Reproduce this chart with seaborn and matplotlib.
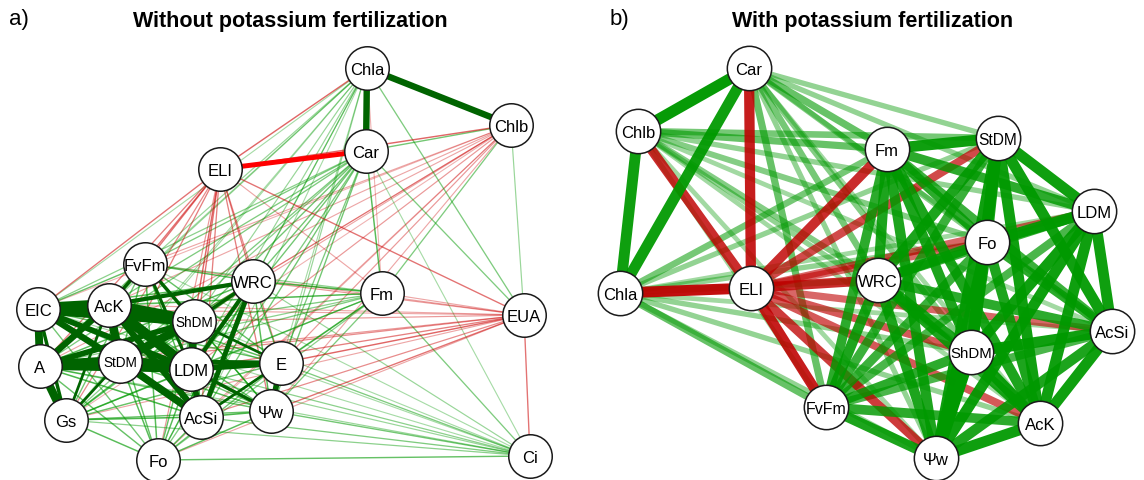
import numpy as np
import pandas as pd
import matplotlib
matplotlib.use("Agg")
import matplotlib.pyplot as plt
import seaborn as sns

sns.set_theme(style="white")
plt.rcParams['font.family'] = ['Liberation Sans', 'DejaVu Sans']
plt.rcParams['text.color'] = 'black'

# ---- panel a: without potassium (layout coordinates + correlations)
nodes_a = ["Chla", "Chlb", "Car", "ELI", "FvFm", "WRC", "Fm", "EUA", "EIC", "AcK",
           "ShDM", "A", "StDM", "LDM", "E", "Gs", "AcSi", "Ψw", "Fo", "Ci"]
x_a = [367, 511, 366, 220, 145, 253, 382, 524, 38, 109,
       194, 40, 120, 191, 281, 66, 201, 271, 158, 530]
y_a = [69, 126, 152, 170, 265, 282, 294, 316, 310, 306,
       322, 367, 362, 370, 364, 421, 418, 412, 461, 457]

edges_a = [
    # strong block
    ("EIC", "AcK", 0.97), ("EIC", "ShDM", 0.92), ("AcK", "ShDM", 0.95),
    ("EIC", "A", 0.86), ("A", "Gs", 0.87), ("A", "StDM", 0.93),
    ("StDM", "LDM", 0.95), ("EIC", "StDM", 0.82), ("EIC", "LDM", 0.80),
    ("AcK", "LDM", 0.92), ("AcK", "A", 0.82), ("ShDM", "StDM", 0.88),
    ("ShDM", "LDM", 0.86), ("StDM", "AcSi", 0.85), ("AcK", "AcSi", 0.82),
    ("LDM", "AcSi", 0.80), ("A", "ShDM", 0.80), ("A", "LDM", 0.85),
    ("AcK", "StDM", 0.88), ("LDM", "E", 0.80), ("StDM", "E", 0.77),
    ("WRC", "AcSi", 0.78), ("WRC", "LDM", 0.76), ("WRC", "AcK", 0.76),
    ("WRC", "ShDM", 0.74), ("E", "Ψw", 0.80), ("LDM", "Ψw", 0.74),
    ("AcK", "FvFm", 0.74), ("FvFm", "ShDM", 0.74), ("FvFm", "LDM", 0.73),
    ("Gs", "StDM", 0.72), ("Gs", "AcK", 0.72), ("EIC", "Gs", 0.74),
    ("ShDM", "E", 0.72), ("AcSi", "E", 0.72),
    ("Chla", "Car", 0.82), ("Chla", "Chlb", 0.82), ("ELI", "Car", -0.78),
    # Chla
    ("Chla", "ELI", -0.55), ("Chla", "FvFm", 0.35), ("Chla", "WRC", 0.40),
    ("Chla", "EIC", 0.30), ("Chla", "AcK", 0.35), ("Chla", "ShDM", 0.35),
    ("Chla", "StDM", 0.30), ("Chla", "LDM", 0.35), ("Chla", "E", 0.30),
    ("Chla", "Fm", -0.25), ("Chla", "EUA", 0.45), ("Chla", "Gs", 0.30),
    ("Chla", "A", 0.30), ("Chla", "AcSi", 0.30), ("Chla", "Ψw", 0.35),
    ("Chla", "Fo", 0.30),
    # Chlb
    ("Chlb", "Car", 0.50), ("Chlb", "ELI", -0.55), ("Chlb", "EUA", 0.35),
    ("Chlb", "Fm", 0.45), ("Chlb", "FvFm", -0.30), ("Chlb", "WRC", -0.30),
    ("Chlb", "EIC", -0.25), ("Chlb", "AcK", -0.30), ("Chlb", "ShDM", -0.30),
    ("Chlb", "StDM", -0.30), ("Chlb", "A", -0.30), ("Chlb", "LDM", -0.35),
    ("Chlb", "E", -0.35), ("Chlb", "Gs", -0.25), ("Chlb", "AcSi", -0.30),
    ("Chlb", "Ψw", -0.30), ("Chlb", "Fo", -0.25),
    # Car
    ("Car", "Fm", 0.60), ("Car", "EUA", 0.45), ("Car", "Ci", 0.30),
    ("Car", "FvFm", 0.45), ("Car", "WRC", 0.50), ("Car", "EIC", 0.40),
    ("Car", "AcK", 0.45), ("Car", "ShDM", 0.50), ("Car", "StDM", 0.45),
    ("Car", "A", 0.45), ("Car", "LDM", 0.50), ("Car", "E", 0.45),
    ("Car", "Gs", 0.40), ("Car", "AcSi", 0.50), ("Car", "Ψw", 0.50),
    ("Car", "Fo", 0.45),
    # ELI
    ("ELI", "FvFm", -0.50), ("ELI", "WRC", -0.45), ("ELI", "EIC", -0.50),
    ("ELI", "AcK", -0.50), ("ELI", "ShDM", -0.55), ("ELI", "StDM", -0.45),
    ("ELI", "A", -0.45), ("ELI", "LDM", -0.50), ("ELI", "E", -0.40),
    ("ELI", "Gs", -0.40), ("ELI", "AcSi", -0.45), ("ELI", "Ψw", -0.45),
    ("ELI", "Fo", -0.35), ("ELI", "EUA", -0.50), ("ELI", "Fm", -0.30),
    # FvFm
    ("FvFm", "EIC", 0.55), ("FvFm", "A", 0.50), ("FvFm", "StDM", 0.60),
    ("FvFm", "WRC", 0.60), ("FvFm", "E", 0.55), ("FvFm", "Gs", 0.50),
    ("FvFm", "AcSi", 0.60), ("FvFm", "Ψw", 0.55), ("FvFm", "Fo", 0.60),
    ("FvFm", "Fm", 0.40), ("FvFm", "EUA", -0.30), ("FvFm", "Ci", 0.30),
    # WRC
    ("WRC", "Fm", 0.65), ("WRC", "EIC", 0.60), ("WRC", "A", 0.60),
    ("WRC", "StDM", 0.60), ("WRC", "E", 0.55), ("WRC", "Gs", 0.50),
    ("WRC", "Ψw", 0.60), ("WRC", "Fo", 0.55), ("WRC", "EUA", -0.35),
    ("WRC", "Ci", 0.35),
    # Fm
    ("Fm", "EIC", 0.40), ("Fm", "AcK", 0.45), ("Fm", "ShDM", 0.45),
    ("Fm", "A", 0.40), ("Fm", "StDM", 0.45), ("Fm", "LDM", 0.50),
    ("Fm", "E", 0.50), ("Fm", "Gs", 0.40), ("Fm", "AcSi", 0.50),
    ("Fm", "Ψw", 0.45), ("Fm", "Fo", 0.40), ("Fm", "EUA", -0.30),
    ("Fm", "Ci", 0.45),
    # EUA
    ("EUA", "EIC", -0.30), ("EUA", "AcK", -0.30), ("EUA", "ShDM", -0.35),
    ("EUA", "A", -0.35), ("EUA", "StDM", -0.40), ("EUA", "LDM", -0.45),
    ("EUA", "E", -0.55), ("EUA", "Gs", -0.30), ("EUA", "AcSi", -0.40),
    ("EUA", "Ψw", -0.50), ("EUA", "Fo", -0.30), ("EUA", "Ci", -0.50),
    # Ci
    ("Ci", "EIC", 0.30), ("Ci", "AcK", 0.30), ("Ci", "ShDM", 0.30),
    ("Ci", "A", 0.35), ("Ci", "StDM", 0.35), ("Ci", "LDM", 0.40),
    ("Ci", "E", 0.45), ("Ci", "Gs", 0.40), ("Ci", "AcSi", 0.45),
    ("Ci", "Ψw", 0.50), ("Ci", "Fo", 0.55),
    # rest of the growth cluster
    ("EIC", "E", 0.55), ("EIC", "AcSi", 0.60), ("EIC", "Ψw", 0.50),
    ("EIC", "Fo", 0.50), ("AcK", "E", 0.60), ("AcK", "Ψw", 0.55),
    ("AcK", "Fo", 0.55), ("ShDM", "Gs", 0.60), ("ShDM", "AcSi", 0.65),
    ("ShDM", "Ψw", 0.60), ("ShDM", "Fo", 0.55), ("A", "E", 0.60),
    ("A", "AcSi", 0.65), ("A", "Ψw", 0.55), ("A", "Fo", 0.55),
    ("StDM", "Ψw", 0.60), ("StDM", "Fo", 0.60), ("LDM", "Gs", 0.65),
    ("LDM", "Fo", 0.60), ("E", "Gs", 0.55), ("E", "Fo", 0.50),
    ("Gs", "AcSi", 0.65), ("Gs", "Ψw", 0.55), ("Gs", "Fo", 0.60),
    ("AcSi", "Ψw", 0.65), ("AcSi", "Fo", 0.60), ("Ψw", "Fo", 0.60),
]

# ---- panel b: with potassium
nodes_b = ["Car", "Chlb", "Chla", "ELI", "Fm", "StDM", "LDM", "Fo", "WRC",
           "AcSi", "ShDM", "FvFm", "AcK", "Ψw"]
x_b = [749, 638, 620, 751, 887, 998, 1094, 987, 878, 1112, 971, 826, 1040, 936]
y_b = [69, 132, 294, 289, 150, 139, 212, 243, 281, 332, 353, 408, 424, 459]

edges_b = [
    ("Car", "Chlb", 0.93), ("Car", "Chla", 0.90), ("Chlb", "Chla", 0.90),
    ("Car", "ELI", -0.85), ("Chlb", "ELI", -0.80), ("Chla", "ELI", -0.90),
    ("Car", "Fm", 0.60), ("Car", "StDM", 0.45), ("Car", "WRC", 0.55),
    ("Car", "FvFm", 0.60), ("Car", "Fo", 0.50), ("Car", "ShDM", 0.50),
    ("Car", "Ψw", 0.45), ("Car", "AcK", 0.40), ("Car", "LDM", 0.45),
    ("Car", "AcSi", 0.40),
    ("Chlb", "Fm", 0.60), ("Chlb", "StDM", 0.55), ("Chlb", "LDM", 0.45),
    ("Chlb", "Fo", 0.50), ("Chlb", "WRC", 0.50), ("Chlb", "AcSi", 0.40),
    ("Chlb", "ShDM", 0.45), ("Chlb", "FvFm", 0.40), ("Chlb", "AcK", 0.40),
    ("Chlb", "Ψw", 0.40),
    ("Chla", "Fm", 0.55), ("Chla", "StDM", 0.45), ("Chla", "WRC", 0.50),
    ("Chla", "FvFm", 0.60), ("Chla", "Fo", 0.45), ("Chla", "LDM", 0.40),
    ("Chla", "ShDM", 0.45), ("Chla", "AcSi", 0.40), ("Chla", "AcK", 0.45),
    ("Chla", "Ψw", 0.45),
    ("ELI", "Fm", -0.80), ("ELI", "StDM", -0.70), ("ELI", "WRC", -0.80),
    ("ELI", "FvFm", -0.85), ("ELI", "Ψw", -0.75), ("ELI", "ShDM", -0.65),
    ("ELI", "AcK", -0.65), ("ELI", "AcSi", -0.60), ("ELI", "LDM", -0.60),
    ("ELI", "Fo", -0.60),
    ("Fm", "StDM", 0.90), ("Fm", "WRC", 0.85), ("Fm", "FvFm", 0.80),
    ("Fm", "ShDM", 0.85), ("Fm", "Ψw", 0.85), ("Fm", "AcK", 0.85),
    ("Fm", "Fo", 0.80), ("Fm", "LDM", 0.80), ("Fm", "AcSi", 0.75),
    ("StDM", "LDM", 0.90), ("StDM", "Fo", 0.85), ("StDM", "WRC", 0.85),
    ("StDM", "AcSi", 0.90), ("StDM", "ShDM", 0.95), ("StDM", "FvFm", 0.75),
    ("StDM", "AcK", 0.90), ("StDM", "Ψw", 0.90),
    ("LDM", "Fo", 0.90), ("LDM", "WRC", 0.75), ("LDM", "AcSi", 0.90),
    ("LDM", "ShDM", 0.90), ("LDM", "FvFm", 0.70), ("LDM", "AcK", 0.90),
    ("LDM", "Ψw", 0.90),
    ("Fo", "WRC", 0.85), ("Fo", "AcSi", 0.80), ("Fo", "ShDM", 0.90),
    ("Fo", "FvFm", 0.75), ("Fo", "AcK", 0.85), ("Fo", "Ψw", 0.90),
    ("WRC", "AcSi", 0.80), ("WRC", "ShDM", 0.85), ("WRC", "FvFm", 0.85),
    ("WRC", "AcK", 0.85), ("WRC", "Ψw", 0.85),
    ("AcSi", "ShDM", 0.90), ("AcSi", "FvFm", 0.70), ("AcSi", "AcK", 0.90),
    ("AcSi", "Ψw", 0.85),
    ("ShDM", "FvFm", 0.80), ("ShDM", "AcK", 0.90), ("ShDM", "Ψw", 0.95),
    ("FvFm", "AcK", 0.80), ("FvFm", "Ψw", 0.85), ("AcK", "Ψw", 0.90),
]

PX = 0.72  # points per pixel at dpi 100


def style_a(r):
    # qgraph-like: below cut thin & faded, above cut dark & wide
    cut = 0.7
    a = abs(r)
    if a >= cut:
        col = "#006400" if r > 0 else "#FF0000"
        return col, (2.0 + 11.0 * (a - cut) / (1 - cut)) * PX, 1.0
    col = "#009900" if r > 0 else "#CC0000"
    return col, (0.8 + 0.8 * a / cut) * PX, min(1.0, 0.05 + 0.7 * a / cut)


def style_b(r):
    a = abs(r)
    col = "#009900" if r > 0 else "#BF0000"
    w = 3.5 + 8.0 * (a - 0.3) / 0.65
    alpha = 0.25 + 0.75 * (a - 0.3) / 0.65
    return col, w * PX, min(1.0, alpha)


def draw_network(ax, nodes, xs, ys, edges, style, node_s, small, fs):
    pos = dict(zip(nodes, zip(xs, ys)))
    for n1, n2, r in sorted(edges, key=lambda e: abs(e[2])):
        col, lw, al = style(r)
        (x1, y1), (x2, y2) = pos[n1], pos[n2]
        ax.plot([x1, x2], [y1, y2], color=col, lw=lw, alpha=al,
                solid_capstyle="butt", zorder=1)
    df = pd.DataFrame({"node": nodes, "x": xs, "y": ys})
    sns.scatterplot(data=df, x="x", y="y", s=node_s, color="white",
                    edgecolor="#1a1a1a", linewidth=1.1, zorder=3,
                    legend=False, ax=ax)
    for n, x, y in zip(nodes, xs, ys):
        ax.text(x, y, n, ha="center", va="center_baseline",
                fontsize=small.get(n, fs), color="black", zorder=4)
    ax.set_axis_off()


fig = plt.figure(figsize=(11.44, 4.81), dpi=100)
ax_a = fig.add_axes([0, 0, 0.5, 1])
ax_b = fig.add_axes([0.5, 0, 0.5, 1])

draw_network(ax_a, nodes_a, x_a, y_a, edges_a, style_a, 980,
             {"ShDM": 9.8, "StDM": 9.8}, 12)
draw_network(ax_b, nodes_b, x_b, y_b, edges_b, style_b, 1020,
             {"ShDM": 10.8, "StDM": 11.2, "FvFm": 11.5}, 12)

ax_a.set_xlim(0, 572)
ax_a.set_ylim(481, 0)
ax_b.set_xlim(572, 1144)
ax_b.set_ylim(481, 0)

ax_a.text(9, 20, "a)", fontsize=16, ha="left", va="center")
ax_a.text(290, 21, "Without potassium fertilization", fontsize=15.5,
          fontweight="bold", ha="center", va="center")
ax_b.text(610, 20, "b)", fontsize=16, ha="left", va="center")
ax_b.text(873, 21, "With potassium fertilization", fontsize=15.5,
          fontweight="bold", ha="center", va="center")

fig.savefig("out.png", dpi=100)
